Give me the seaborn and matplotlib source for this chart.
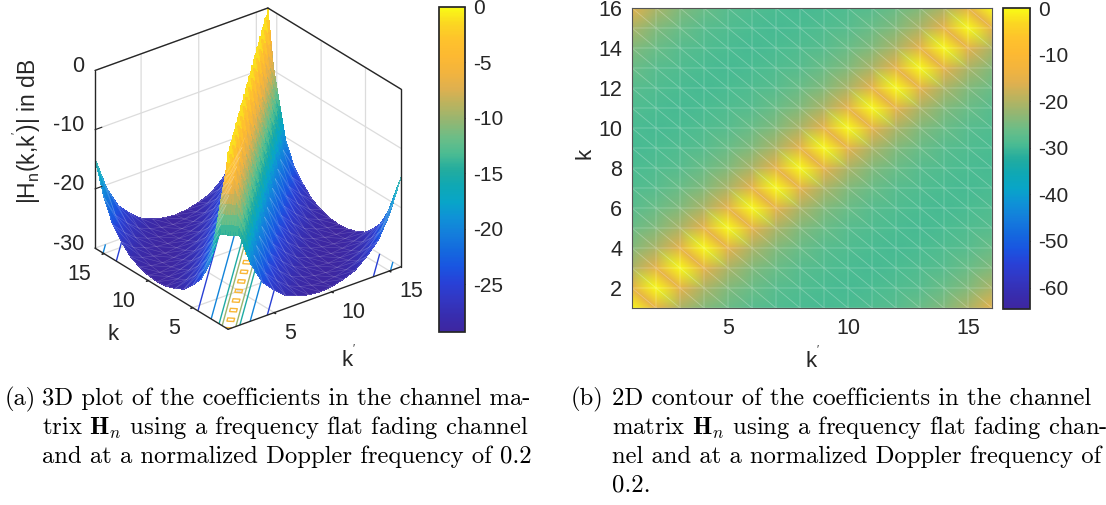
import numpy as np
import matplotlib
matplotlib.use("Agg")
import matplotlib.pyplot as plt
import matplotlib.tri as mtri
import seaborn as sns
from matplotlib.cm import ScalarMappable
from matplotlib.colors import Normalize
from mpl_toolkits.mplot3d import proj3d
from mpl_toolkits.mplot3d.art3d import Line3DCollection

# dB level, by circular distance from the diagonal
offset_db = [0, -14.9, -20.5, -24.2, -26.2, -27.8, -28.6, -29.1,
             -29.3, -29.1, -28.6, -27.8, -26.2, -24.2, -20.5, -14.9]
k_values = list(range(1, 17))
z_ticks = [-30, -20, -10, 0]
k_ticks_3d = [5, 10, 15]
k_ticks_y = [2, 4, 6, 8, 10, 12, 14, 16]
contour_levels = [-25, -20, -15, -10, -5]
cbar_ticks_a = [0, -5, -10, -15, -20, -25]
cbar_ticks_b = [0, -10, -20, -30, -40, -50, -60]
caption_a = ["(a)", "3D plot of the coefficients in the channel ma-",
             r"trix $\mathbf{H}_n$ using a frequency flat fading channel",
             "and at a normalized Doppler frequency of 0.2"]
caption_b = ["(b)", "2D contour of the coefficients in the channel",
             r"matrix $\mathbf{H}_n$ using a frequency flat fading chan-",
             "nel and at a normalized Doppler frequency of", "0.2."]
# colour bar, bottom to top
bar_colors = ["#3e26a0", "#372daf", "#3237c3", "#2841d7", "#1955e1", "#1469de", "#147ddc",
              "#0f91d7", "#08a5c8", "#0fa8b4", "#23ac9e", "#4cbc92", "#6dbd86", "#93b672",
              "#b9b35f", "#dfb04f", "#f2b43e", "#fdb932", "#fec22c", "#fbd622", "#f9fb15"]

sns.set_theme(style="white", font="Liberation Sans")
plt.rcParams["axes.unicode_minus"] = False
plt.rcParams["mathtext.fontset"] = "custom"
plt.rcParams["mathtext.rm"] = "Liberation Sans"
plt.rcParams["mathtext.it"] = "Liberation Sans"
parula = sns.blend_palette(bar_colors, n_colors=256, as_cmap=True)
dark = "#262626"

W, H = 1106, 505
fig = plt.figure(figsize=(W / 100, H / 100), dpi=100)


def box(x0, y0, x1, y1):
    # pixel box measured from the top left of the picture
    return [x0 / W, 1 - y1 / H, (x1 - x0) / W, (y1 - y0) / H]


n = len(k_values)
xx, yy = np.meshgrid(k_values, k_values)
zz = np.array(offset_db)[(yy - xx) % n]
triangles = []
for j in range(n - 1):
    for i in range(n - 1):
        a = j * n + i
        triangles += [[a, a + 1, a + n], [a + 1, a + n + 1, a + n]]
mesh = mtri.Triangulation(xx.ravel(), yy.ravel(), triangles)

# 3D surface
ax = fig.add_axes(box(60, 0, 480, 420), projection="3d", computed_zorder=False)
ax.set_proj_type("ortho")
ax.view_init(elev=28, azim=-127.6)
ax.set_box_aspect((218, 218, 201))
ax.set_xlim(1, 16, view_margin=0)
ax.set_ylim(1, 16, view_margin=0)
ax.set_zlim(-30, 0, view_margin=0)
ax.patch.set_visible(False)

norm_a = Normalize(-29.3, 0)
ax.contour(xx, yy, zz, levels=contour_levels, zdir="z", offset=-30, cmap=parula, norm=norm_a,
           linewidths=1.0, zorder=1)
refiner = mtri.UniformTriRefiner(mesh)
fine, fine_z = refiner.refine_field(zz.ravel(), mtri.LinearTriInterpolator(mesh, zz.ravel()), subdiv=3)
surf = ax.plot_trisurf(fine, fine_z, cmap=parula, norm=norm_a, linewidth=0, antialiased=False,
                       shade=False, zorder=2)

# faint mesh edges on the parts of the bowls that can be seen
edges = []
for i0, i1 in mesh.edges:
    dk0, dk1 = mesh.y[i0] - mesh.x[i0], mesh.y[i1] - mesh.x[i1]
    if min(dk0, dk1) >= 2 or max(dk0, dk1) <= -2:
        edges.append([(mesh.x[i0], mesh.y[i0], zz.ravel()[i0]), (mesh.x[i1], mesh.y[i1], zz.ravel()[i1])])
ax.add_collection3d(Line3DCollection(edges, colors="white", linewidths=0.4, alpha=0.2, zorder=3))

# frame
for xs, ys, zs in [([1, 1], [16, 16], [-30, 0]), ([16, 16], [1, 1], [-30, 0]),
                   ([1, 16], [16, 16], [0, 0]), ([16, 16], [1, 16], [0, 0]),
                   ([1, 1], [1, 16], [-30, -30]), ([1, 16], [1, 1], [-30, -30])]:
    ax.plot(xs, ys, zs, color=dark, lw=1.0, zorder=4)
for z in z_ticks[1:-1]:
    ax.plot([1, 1.6], [16, 16], [z, z], color=dark, lw=0.8, zorder=4)

for axis in (ax.xaxis, ax.yaxis, ax.zaxis):
    axis.set_pane_color((1, 1, 1, 0))
    axis.pane.set_edgecolor((1, 1, 1, 0))
    axis.line.set_color((1, 1, 1, 0))
    axis._axinfo["grid"].update(color="#dcdcdc", linewidth=0.9)
    axis._axinfo["tick"].update(inward_factor=0.12, outward_factor=0.0)
ax.zaxis._axinfo["tick"].update(inward_factor=0.0, outward_factor=0.0)
ax.set_xticks(k_ticks_3d)
ax.set_yticks(k_ticks_3d)
ax.set_zticks(z_ticks)
ax.set_xticklabels([])
ax.set_yticklabels([])
ax.set_zticklabels([])
ax.tick_params(axis="both", color=dark)


def to_pixels(x, y, z):
    px, py, _z = proj3d.proj_transform(np.asarray(x, float), np.asarray(y, float), np.asarray(z, float),
                                       ax.get_proj())
    pts = ax.transData.transform(np.column_stack([px, py]))
    return pts[:, 0], H - pts[:, 1]


def fit_box(target_w=306.0, target_x0=95.0, target_top=8.0):
    # scale and shift the square 3D axes until the frame lands on the measured corners
    side, cx, cy = 420.0, 270.0, 210.0
    for _ in range(3):
        ax.set_position(box(cx - side / 2, cy - side / 2, cx + side / 2, cy + side / 2))
        fig.canvas.draw()
        px, py = to_pixels([1, 16, 16], [16, 1, 16], [-30, -30, 0])
        side *= target_w / (px[1] - px[0])
        cx += target_x0 - px[0]
        cy += target_top - py[2]


fit_box()
fig.canvas.draw()

tick = dict(fontsize=15.5, color=dark, va="center")
px, py = to_pixels([1] * 4, [16] * 4, z_ticks)
for z, y in zip(z_ticks, py):
    fig.text(84 / W, 1 - (y - 4) / H, str(z), ha="right", **tick)
px, py = to_pixels(k_ticks_3d, [1] * 3, [-30] * 3)
for v, x, y in zip(k_ticks_3d, px, py):
    fig.text((x + 10) / W, 1 - (y + 21) / H, str(v), ha="left", **tick)
px, py = to_pixels([1] * 3, k_ticks_3d, [-30] * 3)
for v, x, y in zip(k_ticks_3d, px, py):
    fig.text((x - 12.5) / W, 1 - (y + 21) / H, str(v), ha="right", **tick)

fig.text(27 / W, 1 - 131 / H, r"|H$_{\mathrm{n}}$(k,k$^{'}$)| in dB", rotation=90, fontsize=16.5,
         color=dark, ha="center", va="center")
fig.text(113 / W, 1 - 334 / H, "k", fontsize=16, color=dark, ha="center", va="center")
fig.text(349 / W, 1 - 358 / H, "k$^{'}$", fontsize=16, color=dark, ha="center", va="center")

cax_a = fig.add_axes(box(439, 7, 465, 332))
cb_a = fig.colorbar(ScalarMappable(norm_a, parula), cax=cax_a, ticks=cbar_ticks_a)
cb_a.outline.set_edgecolor(dark)
cax_a.tick_params(direction="in", left=True, right=True, length=4, width=0.7, color=dark,
                  labelsize=15, labelcolor=dark, pad=6)

# 2D map
ax2 = fig.add_axes(box(632, 8, 992, 308))
norm_b = Normalize(-64.6, 0)
ax2.tripcolor(mesh, zz.ravel(), shading="gouraud", cmap=parula, norm=norm_b)
ax2.triplot(mesh, color="white", lw=0.6, alpha=0.28)
ax2.set_xlim(1, 16)
ax2.set_ylim(1, 16)
ax2.set_xticks(k_ticks_3d)
ax2.set_yticks(k_ticks_y)
ax2.tick_params(direction="in", top=True, right=True, bottom=True, left=True, length=3.5, width=0.7,
                color=dark, labelsize=15.5, labelcolor=dark, pad=7)
for sp in ax2.spines.values():
    sp.set_edgecolor("#555555")
    sp.set_linewidth(0.8)
fig.text(585 / W, 1 - 153 / H, "k", rotation=90, fontsize=16, color=dark, ha="center", va="center")
fig.text(813 / W, 1 - 359 / H, "k$^{'}$", fontsize=16, color=dark, ha="center", va="center")

cax_b = fig.add_axes(box(1003, 8, 1030, 309))
cb_b = fig.colorbar(ScalarMappable(norm_b, parula), cax=cax_b, ticks=cbar_ticks_b)
cb_b.outline.set_edgecolor(dark)
cax_b.tick_params(direction="in", left=True, right=True, length=4, width=0.7, color=dark,
                  labelsize=15, labelcolor=dark, pad=6)

# captions
cap = dict(fontsize=17.75, family="cmr10", math_fontfamily="cm", color="black", va="baseline")
fig.text(5 / W, 1 - 405 / H, caption_a[0], **cap)
for i, line in enumerate(caption_a[1:]):
    fig.text(42 / W, 1 - (405 + 29 * i) / H, line, **cap)
fig.text(571 / W, 1 - 405 / H, caption_b[0], **cap)
for i, line in enumerate(caption_b[1:]):
    fig.text(612 / W, 1 - (405 + 29 * i) / H, line, **cap)

fig.savefig("out.png", dpi=100)
